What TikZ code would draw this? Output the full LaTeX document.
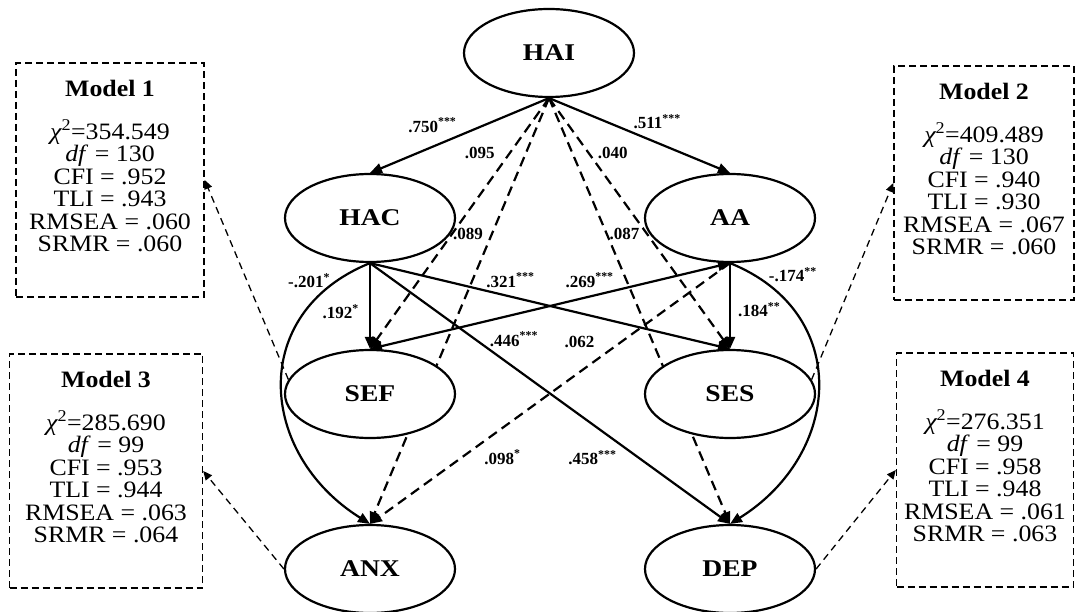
\documentclass[tikz,border=0pt]{standalone}
\usepackage{fontspec}
\setmainfont{Liberation Serif}
\newfontfamily\fitfont{Liberation Serif}[FakeStretch=1.1]
\newfontfamily\latfont{Liberation Serif}[FakeStretch=1.15]
\usetikzlibrary{arrows.meta,positioning,shapes.geometric,backgrounds}

\begin{document}
\begin{tikzpicture}[
  x=1pt,y=1pt,
  lat/.style={draw,ellipse,line width=2.2pt,fill=white,on grid,minimum width=170pt,minimum height=88pt,inner sep=0pt,font=\latfont\fontsize{24}{26}\selectfont\bfseries},
  modelbox/.style={draw,line width=1.4pt,dash pattern=on 7pt off 4pt,minimum width=188pt,minimum height=234pt},
  fittxt/.style={align=center,inner sep=0pt,font=\fitfont\fontsize{23.5}{22.5}\selectfont},
  coef/.style={font=\fontsize{17}{19}\selectfont\bfseries,inner sep=2pt},
  sig/.style={-{Triangle[length=12pt,width=10pt]},line width=2.2pt},
  ns/.style={sig,dash pattern=on 10pt off 6pt},
  fitarr/.style={-{Triangle[length=9pt,width=8pt]},line width=1.3pt,dash pattern=on 7pt off 5pt}
]
\useasboundingbox (0,0) rectangle (1078,-612);

% latent variables
\node[lat] (hai) at (549,-53) {HAI};
\node[lat,below left=165pt and 179pt of hai] (hac) {HAC};
\node[lat,below right=165pt and 181pt of hai] (aa) {AA};
\node[lat,below=176pt of hac] (sef) {SEF};
\node[lat,below=176pt of aa] (ses) {SES};
\node[lat,below=175pt of sef] (anx) {ANX};
\node[lat,below=175pt of ses] (dep) {DEP};

% model fit boxes
\node[modelbox] (m1) at (110,-180) {};
\node[fittxt,below=18pt of m1.north] (m1txt) {\textbf{Model 1}\\[20pt]{\itshape χ}\textsuperscript{2}=354.549\\\textit{df} = 130\\CFI = .952\\TLI = .943\\RMSEA = .060\\SRMR = .060};
\node[modelbox,minimum width=180pt] (m2) at (984,-183) {};
\node[fittxt,below=18pt of m2.north] (m2txt) {\textbf{Model 2}\\[20pt]{\itshape χ}\textsuperscript{2}=409.489\\\textit{df} = 130\\CFI = .940\\TLI = .930\\RMSEA = .067\\SRMR = .060};
\node[modelbox,minimum width=193pt] (m3) at (106,-471) {};
\node[fittxt,below=18pt of m3.north] (m3txt) {\textbf{Model 3}\\[20pt]{\itshape χ}\textsuperscript{2}=285.690\\\textit{df} = 99\\CFI = .953\\TLI = .944\\RMSEA = .063\\SRMR = .064};
\node[modelbox,minimum width=177pt] (m4) at (985,-470) {};
\node[fittxt,below=18pt of m4.north] (m4txt) {\textbf{Model 4}\\[20pt]{\itshape χ}\textsuperscript{2}=276.351\\\textit{df} = 99\\CFI = .958\\TLI = .948\\RMSEA = .061\\SRMR = .063};

\begin{scope}[on background layer]
% paths from HAI
\draw[sig] (hai.south) -- node[coef,pos=.5,above left]{.750\textsuperscript{***}} (hac.north);
\draw[sig] (hai.south) -- node[coef,pos=.45,above right]{.511\textsuperscript{***}} (aa.north);
\draw[ns] (hai.south) -- node[coef,pos=.22,left=12pt]{.095} (sef.north);
\draw[ns] (hai.south) -- node[coef,pos=.318,left=6pt]{.089} (anx.north);
\draw[ns] (hai.south) -- node[coef,pos=.22,right=6pt]{.040} (ses.north);
\draw[ns] (hai.south) -- node[coef,pos=.318,right=0pt]{.087} (dep.north);
% mediators
\draw[sig] (hac.south) -- node[coef,pos=.57,left=8pt]{.192\textsuperscript{*}} (sef.north);
\draw[sig] (aa.south) -- node[coef,pos=.545,right=5pt]{.184\textsuperscript{**}} (ses.north);
\draw[sig] (hac.south) -- node[coef,pos=.39,above=6pt]{.321\textsuperscript{***}} (ses.north);
\draw[sig,{Triangle[length=12pt,width=10pt]}-{Triangle[length=12pt,width=10pt]}] (aa.south) -- node[coef,pos=.39,above=6pt]{.269\textsuperscript{***}} (sef.north);
\draw[sig] (hac.south) -- node[coef,pos=.40,above=18pt]{.446\textsuperscript{***}}
   node[coef,pos=.618,below=23pt]{.458\textsuperscript{***}} (dep.north);
\draw[ns] (aa.south) -- node[coef,pos=.418,above=21pt]{.062}
   node[coef,pos=.632,below=19pt]{.098\textsuperscript{*}} (anx.north);
\draw[sig] (hac.south) to[out=202,in=148,looseness=1.3] node[coef,pos=.1,left=4pt]{-.201\textsuperscript{*}} (anx.north);
\draw[sig] (aa.south) to[out=-22,in=32,looseness=1.3] node[coef,pos=.07,right=12pt]{-.174\textsuperscript{**}} (dep.north);
\end{scope}

% links to fit boxes
\draw[fitarr] (sef.170) -- (m1.east);
\draw[fitarr] (ses.10) -- (m2.west);
\draw[fitarr] (anx.west) -- (m3.east);
\draw[fitarr] (dep.east) -- (m4.west);
\end{tikzpicture}
\end{document}
